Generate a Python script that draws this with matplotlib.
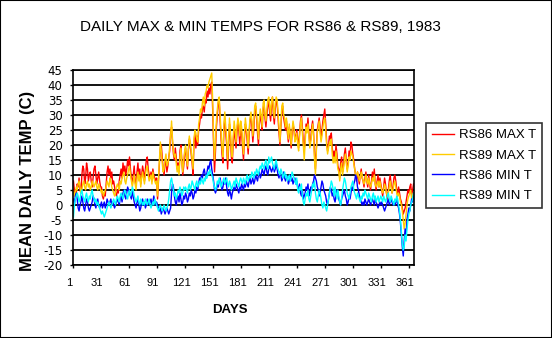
import numpy as np
import matplotlib
matplotlib.use("Agg")
import matplotlib.pyplot as plt
from matplotlib.patches import Rectangle
from matplotlib.transforms import ScaledTranslation

plt.rcParams['font.family'] = ['Liberation Sans', 'DejaVu Sans']

title = "DAILY MAX & MIN TEMPS FOR RS86 & RS89, 1983"
xlabel = "DAYS"
ylabel = "MEAN DAILY TEMP (C)"
series_names = ["RS86 MAX T", "RS89 MAX T", "RS86 MIN T", "RS89 MIN T"]
series_colors = ["#FF0000", "#FFCC00", "#0000FF", "#00FFFF"]
xtick_labels = [1, 31, 61, 91, 121, 151, 181, 211, 241, 271, 301, 331, 361]
ytick_values = list(range(-20, 50, 5))

max86 = [
    8,5,3,4,7,6,9,5,4,10,13,12,7,9,14,12,8,10,11,8,6,9,12,13,10,7,9,11,8,6,
    6,3,2,4,3,7,11,13,10,12,9,11,7,8,6,4,3,5,4,8,10,12,9,14,11,13,10,12,15,13,
    16,12,9,7,10,13,8,6,11,14,9,12,7,10,13,11,8,12,15,16,12,10,9,11,8,12,10,9,8,9,
    2,8,14,19,20,16,12,10,14,15,11,13,16,18,24,26,21,17,15,19,16,12,14,11,18,20,15,10,13,17,
    19,15,12,18,22,20,17,14,10,21,24,19,23,20,25,27,30,29,32,33,31,35,34,38,36,39,37,40,41,32,
    20,11,18,26,30,34,35,28,22,17,14,25,29,24,20,12,19,27,23,16,14,21,26,22,19,24,28,25,20,26,
    24,19,15,22,27,25,21,17,23,28,30,26,21,25,31,33,29,24,20,27,30,28,25,32,34,29,26,30,33,35,
    31,28,33,36,30,27,32,35,34,29,24,20,26,31,33,29,27,25,28,24,21,26,23,19,24,27,25,22,23,25,
    22,19,24,28,30,26,21,18,23,27,25,29,24,20,22,26,28,24,17,12,19,25,27,29,26,22,25,28,30,32,
    27,21,18,20,23,22,24,19,16,18,15,20,17,13,12,9,14,16,11,13,17,19,15,12,14,18,16,21,20,17,
    15,12,10,8,11,9,7,10,12,9,8,6,9,11,8,6,10,7,5,8,11,9,12,7,5,8,10,6,9,7,
    5,3,6,9,7,4,2,5,8,10,7,4,6,9,10,8,5,3,6,4,2,1,-1,-3,-2,-1,1,3,5,4,6,7,3,5,7,
]
max89 = [
    5,3,4,6,5,7,8,6,4,5,7,8,6,5,7,8,6,7,5,6,8,7,6,7,8,6,5,7,6,5,
    4,5,3,4,5,6,8,7,6,9,8,6,5,4,3,4,6,7,6,5,8,7,9,10,11,8,7,9,10,12,
    13,10,8,6,8,10,7,5,9,11,8,10,6,9,11,9,7,10,12,13,10,8,9,10,7,11,9,8,7,8,
    3,9,15,21,18,14,11,12,15,17,13,14,15,20,23,28,22,18,16,17,14,11,13,10,16,19,14,11,15,18,
    20,16,13,19,23,21,18,15,12,22,25,24,22,21,27,29,32,31,34,36,33,37,38,40,39,41,42,43,44,35,
    22,15,21,28,32,35,36,30,24,19,16,27,31,26,22,15,21,29,25,18,16,23,28,25,21,26,29,27,23,28,
    26,21,17,24,29,26,23,19,25,29,31,28,23,27,33,34,30,26,22,29,32,30,26,34,35,30,28,32,35,36,
    33,30,35,36,32,29,34,36,35,31,26,21,27,33,34,30,29,26,29,25,22,27,24,20,25,28,26,21,22,24,
    20,18,23,27,29,24,20,15,21,26,24,27,23,19,21,24,27,23,15,10,18,24,26,28,24,21,23,26,28,29,
    25,20,17,19,21,20,22,17,14,16,14,18,15,12,11,8,12,14,10,12,15,17,14,11,13,16,15,18,17,16,
    14,12,10,9,11,10,8,9,11,10,8,7,8,10,8,7,9,7,6,7,9,8,10,7,6,7,8,6,8,6,
    5,4,5,7,6,4,3,4,6,8,6,4,5,7,8,6,4,3,4,3,1,0,-2,-5,-8,-6,-3,0,2,3,4,5,2,3,4,
]
min86 = [
    2,0,3,4,2,-1,-2,0,1,3,1,-1,-2,0,2,1,-1,-2,-1,0,1,3,2,0,-1,1,2,0,-1,0,
    1,-1,0,1,-1,0,2,1,0,1,2,0,1,0,-1,0,1,2,1,0,2,3,1,4,5,3,2,4,6,5,
    4,3,2,5,3,1,0,-1,1,2,0,-2,-1,1,2,0,1,-1,0,2,1,0,1,2,0,1,3,1,0,1,
    0,-1,-2,-1,-3,-2,-1,-2,-3,-2,-1,-2,-3,-2,-1,4,7,6,3,1,0,2,3,1,4,2,0,1,3,2,
    4,3,1,2,4,3,5,4,2,3,5,4,6,5,7,9,8,10,9,11,12,10,9,11,13,12,14,15,12,10,
    8,5,4,5,7,6,8,9,7,5,6,8,7,9,6,4,3,5,4,2,4,5,6,5,7,6,5,4,6,5,
    7,6,5,7,6,8,7,6,8,9,7,8,9,7,8,10,9,8,10,11,9,10,12,11,10,12,13,11,10,12,
    13,12,11,12,13,11,12,14,12,10,9,11,10,8,9,11,9,8,10,9,7,8,10,8,9,7,8,9,7,8,
    6,5,7,4,3,5,2,3,4,6,5,7,3,4,6,5,7,8,10,9,8,6,5,3,4,6,8,7,5,4,
    3,1,0,2,4,6,5,3,4,2,1,3,5,4,2,1,0,2,3,4,5,3,2,0,1,3,2,4,6,5,
    7,8,10,9,6,5,3,2,1,0,1,0,2,1,0,1,2,1,0,1,2,1,0,2,1,0,-1,0,1,0,
    1,0,-1,-2,-1,0,1,2,0,1,2,1,0,1,0,1,2,0,-1,-3,-6,-10,-14,-17,-12,-8,-10,-5,-3,-1,-2,0,2,1,3,
]
min89 = [
    -4,0,2,3,4,3,1,2,4,5,3,2,1,3,4,2,1,3,2,4,5,3,2,1,2,0,1,0,-1,-2,
    -3,-2,-3,-4,-3,-2,-1,0,1,0,-1,0,1,2,1,0,2,3,2,1,3,4,3,2,4,5,4,3,2,4,
    5,3,4,6,5,3,2,1,2,3,1,0,2,1,0,1,0,2,1,0,1,2,0,-1,0,1,0,2,1,0,
    -1,-2,-1,0,-1,-2,-1,0,-1,-2,-1,0,2,5,8,9,7,5,3,4,2,3,5,4,6,5,3,4,6,5,
    6,5,4,6,7,5,6,8,7,6,5,7,8,6,7,8,7,9,8,7,9,8,10,9,11,10,12,11,10,9,
    7,6,5,6,8,7,9,8,6,7,8,9,7,8,9,7,6,8,7,5,6,7,8,6,9,8,7,6,8,9,
    8,7,9,8,7,9,10,8,9,10,9,11,10,9,11,10,12,11,10,12,13,12,14,13,12,14,15,13,12,16,
    14,15,16,14,13,12,14,15,13,12,11,10,12,11,9,10,11,9,10,8,9,10,8,9,11,10,9,8,7,9,
    5,4,6,5,7,3,1,0,2,4,3,5,2,1,3,5,7,6,8,4,2,1,3,5,4,2,0,-1,1,0,
    -1,-2,0,2,4,6,8,7,5,3,6,4,2,5,3,1,0,2,5,7,9,8,6,4,3,2,4,6,7,8,
    5,4,3,2,4,3,2,1,3,2,4,3,5,4,3,2,4,3,2,1,3,4,2,3,1,2,3,1,2,3,
    2,1,3,2,1,2,3,4,2,1,3,2,1,0,2,1,3,2,0,-2,-5,-9,-13,-15,-14,-10,-12,-8,-5,-3,-2,0,1,2,4,
]

series = [max86, max89, min86, min89]
n = len(max86)
days = np.arange(1, n + 1)

fig = plt.figure(figsize=(5.52, 3.38), dpi=100)
fig.patch.set_facecolor("white")
fig.patches.append(Rectangle((0, 0), 1, 1, transform=fig.transFigure,
                             fill=False, edgecolor="black", linewidth=1.5, zorder=10))

ax = fig.add_axes([73/552, 1-265/338, (414-73)/552, (265-70)/338])
for vals, name, col in zip(series, series_names, series_colors):
    ax.plot(days[:len(vals)], vals, color=col, lw=1.0, label=name)

ax.set_xlim(0.5, 365.5)
ax.set_ylim(-20, 45)
ax.set_yticks(ytick_values)
ax.set_yticklabels([str(v) for v in ytick_values], fontsize=8.5, family='DejaVu Sans')
xt = [d - 0.5 for d in xtick_labels]
ax.set_xticks(xt)
ax.set_xticklabels([str(d) for d in xtick_labels], fontsize=8)
ax.tick_params(axis='both', direction='out', length=2.5, width=1, color='black')
ax.tick_params(axis='y', pad=5)
ax.tick_params(axis='x', pad=7)
off = ScaledTranslation(-4/100, 0, fig.dpi_scale_trans)
for lab in ax.get_xticklabels():
    lab.set_transform(lab.get_transform() + off)
ax.grid(axis='y', color='black', lw=1.3)
ax.set_axisbelow(True)
for s in ax.spines.values():
    s.set_color('black')
    s.set_linewidth(1.2)

fig.text(260/552, 1-27/338, title, ha='center', va='center', fontsize=11)
fig.text(230/552, 1-310/338, xlabel, ha='center', va='center', fontsize=9.5, fontweight='bold')
fig.text(28/552, 1-181/338, ylabel, ha='center', va='center', rotation=90,
         fontsize=12, fontweight='bold')

leg = fig.legend(loc='upper left', bbox_to_anchor=(426/552, 1-123/338), fontsize=9.5,
                 frameon=True, fancybox=False, edgecolor='black', handlelength=1.7,
                 labelspacing=0.62, borderpad=0.45, handletextpad=0.35, borderaxespad=0)
leg.get_frame().set_linewidth(1.2)

fig.savefig("out.png", dpi=100)
